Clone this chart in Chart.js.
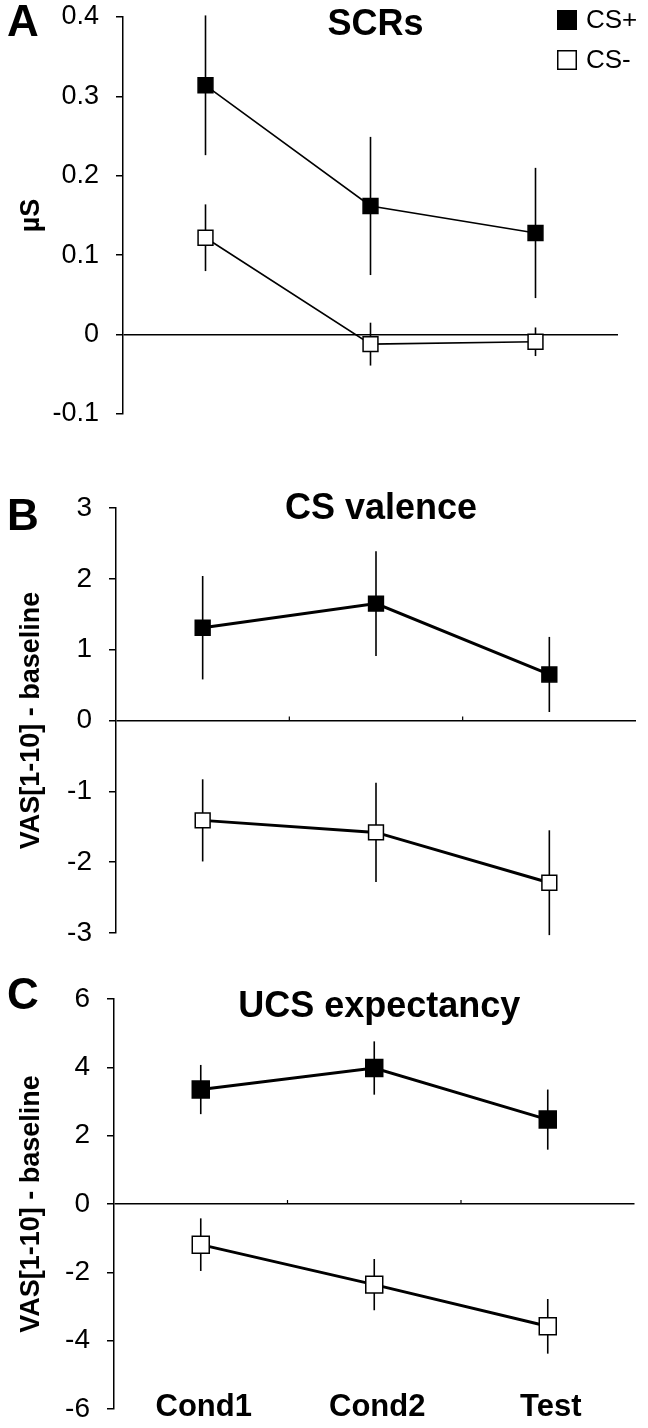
<!DOCTYPE html>
<html>
<head>
<meta charset="utf-8">
<script src="https://cdn.jsdelivr.net/npm/chart.js@4/dist/chart.umd.min.js"></script>
<style>
  html, body { margin: 0; padding: 0; background: #fff; overflow: hidden; }
  .panel { position: absolute; left: 0; width: 648px; }
  canvas { display: block; }
</style>
</head>
<body>
<div class="panel" style="top:-20px"><canvas id="scrChart" width="648" height="480"></canvas></div>
<div class="panel" style="top:455px"><canvas id="valenceChart" width="648" height="513"></canvas></div>
<div class="panel" style="top:950px"><canvas id="expectChart" width="648" height="494"></canvas></div>
<script>
// phases on the x axis (shared by all three panels)
const phases = ["Cond1", "Cond2", "Test"];
const seriesNames = ["CS+", "CS-"];

// A: skin conductance responses (µS)
const scrPlus = [0.314, 0.162, 0.128];
const scrPlusErr = [0.088, 0.087, 0.082];
const scrMinus = [0.122, -0.012, -0.009];
const scrMinusErr = [0.042, 0.027, 0.018];

// B: CS valence (VAS - baseline)
const valPlus = [1.31, 1.65, 0.65];
const valPlusErr = [0.73, 0.74, 0.53];
const valMinus = [-1.41, -1.58, -2.29];
const valMinusErr = [0.58, 0.7, 0.74];

// C: UCS expectancy (VAS - baseline)
const expPlus = [3.35, 3.98, 2.47];
const expPlusErr = [0.72, 0.78, 0.88];
const expMinus = [-1.19, -2.36, -3.58];
const expMinusErr = [0.77, 0.75, 0.8];

const FONT = "'Liberation Sans', Arial, Helvetica, sans-serif";
const TICK_FONT = "'Liberation Sans Narrow', 'Arial Narrow', 'Liberation Sans', Arial, sans-serif";

// error bars go under the markers, so draw them before the datasets
const errorBars = {
  id: "errorBars",
  beforeDatasetsDraw(chart, args, opts) {
    const { ctx, scales: { x, y } } = chart;
    ctx.save();
    ctx.strokeStyle = "#000";
    ctx.lineWidth = 1.6;
    chart.data.datasets.forEach((ds, i) => {
      const err = opts.errors[i];
      ds.data.forEach((v, j) => {
        const px = x.getPixelForValue(j);
        ctx.beginPath();
        ctx.moveTo(px, y.getPixelForValue(v + err[j]));
        ctx.lineTo(px, y.getPixelForValue(v - err[j]));
        ctx.stroke();
      });
    });
    ctx.restore();
  },
};

// panel letter, title, legend, zero-line ticks and phase labels
const decorations = {
  id: "decorations",
  afterDraw(chart, args, opts) {
    const { ctx, chartArea, scales: { x, y } } = chart;
    const top = chartArea.top;
    ctx.save();
    ctx.fillStyle = "#000";
    ctx.textBaseline = "middle";

    ctx.font = `bold 44px ${FONT}`;
    ctx.textAlign = "left";
    ctx.fillText(opts.letter, 7, top + opts.letterDy);

    ctx.font = `bold 36px ${FONT}`;
    ctx.textAlign = "center";
    ctx.fillText(opts.title, (chartArea.left + chartArea.right) / 2 + 5, top + opts.titleDy);

    if (opts.zeroTicks) {
      const y0 = y.getPixelForValue(0);
      ctx.strokeStyle = "#000";
      ctx.lineWidth = 1.2;
      for (let j = 0; j < phases.length - 1; j++) {
        const bx = (x.getPixelForValue(j) + x.getPixelForValue(j + 1)) / 2;
        ctx.beginPath();
        ctx.moveTo(bx, y0);
        ctx.lineTo(bx, y0 - 4);
        ctx.stroke();
      }
    }

    if (opts.legend) {
      ctx.font = `26px ${FONT}`;
      ctx.textAlign = "left";
      ctx.lineWidth = 1.5;
      chart.data.datasets.forEach((ds, i) => {
        const cy = top + 3 + i * 40;
        ctx.fillStyle = ds.pointBackgroundColor;
        ctx.fillRect(557, cy - 10, 20, 20);
        ctx.strokeStyle = "#000";
        ctx.strokeRect(557.75, cy - 9.25, 18.5, 18.5);
        ctx.fillStyle = "#000";
        ctx.fillText(ds.label, 586, cy + 1);
      });
    }

    if (opts.phaseLabels) {
      ctx.font = `bold 31px ${FONT}`;
      ctx.textAlign = "center";
      phases.forEach((p, j) => ctx.fillText(p, x.getPixelForValue(j) + 3, chartArea.bottom - 2));
    }
    ctx.restore();
  },
};

function makePanel(id, cfg) {
  const datasets = [
    { label: seriesNames[0], data: cfg.plus, pointBackgroundColor: "#000" },
    { label: seriesNames[1], data: cfg.minus, pointBackgroundColor: "#fff" },
  ].map((d) => ({
    ...d,
    borderColor: "#000",
    borderWidth: cfg.lineWidth,
    tension: 0,
    pointStyle: "rect",
    pointRadius: cfg.markerRadius,
    pointHoverRadius: cfg.markerRadius,
    pointBorderColor: "#000",
    pointBorderWidth: 1.5,
  }));

  return new Chart(document.getElementById(id), {
    type: "line",
    data: { labels: phases, datasets },
    options: {
      responsive: false,
      animation: false,
      devicePixelRatio: 1,
      layout: { padding: { left: 0, right: cfg.padRight, top: cfg.padTop, bottom: cfg.padBottom } },
      plugins: {
        legend: { display: false },
        tooltip: { enabled: false },
        errorBars: { errors: cfg.errors },
        decorations: cfg.deco,
      },
      scales: {
        x: { type: "category", offset: true, display: false },
        y: {
          min: cfg.min,
          max: cfg.max,
          afterFit: (scale) => { scale.width = cfg.axisX; },
          ticks: {
            stepSize: cfg.step,
            padding: 17,
            color: "#000",
            font: { family: TICK_FONT, size: cfg.tickSize },
          },
          grid: {
            drawTicks: true,
            tickLength: 7,
            tickColor: "#000",
            tickWidth: 1.5,
            lineWidth: 1.5,
            color: (c) => (c.tick && c.tick.value === 0 ? "#000" : "rgba(0,0,0,0)"),
          },
          border: { display: true, color: "#000", width: 1.5 },
          title: {
            display: true,
            text: cfg.yTitle,
            color: "#000",
            font: { family: FONT, size: 27, weight: "bold" },
            padding: { top: 15, bottom: 0 },
          },
        },
      },
    },
    plugins: [errorBars, decorations],
  });
}

makePanel("scrChart", {
  plus: scrPlus, minus: scrMinus, errors: [scrPlusErr, scrMinusErr],
  min: -0.1, max: 0.4, step: 0.1, tickSize: 27,
  yTitle: "µS", axisX: 123, padRight: 30, padTop: 37, padBottom: 46,
  lineWidth: 1.6, markerRadius: 10.5,
  deco: { letter: "A", letterDy: 7, title: "SCRs", titleDy: 8, legend: true, zeroTicks: false, phaseLabels: false },
});

makePanel("valenceChart", {
  plus: valPlus, minus: valMinus, errors: [valPlusErr, valMinusErr],
  min: -3, max: 3, step: 1, tickSize: 28,
  yTitle: "VAS[1-10] - baseline", axisX: 116, padRight: 8, padTop: 53, padBottom: 35,
  lineWidth: 3, markerRadius: 10.5,
  deco: { letter: "B", letterDy: 10, title: "CS valence", titleDy: 1, legend: false, zeroTicks: true, phaseLabels: false },
});

makePanel("expectChart", {
  plus: expPlus, minus: expMinus, errors: [expPlusErr, expMinusErr],
  min: -6, max: 6, step: 2, tickSize: 28,
  yTitle: "VAS[1-10] - baseline", axisX: 114, padRight: 9, padTop: 49, padBottom: 35,
  lineWidth: 3, markerRadius: 12,
  deco: { letter: "C", letterDy: -2, title: "UCS expectancy", titleDy: 8, legend: false, zeroTicks: true, phaseLabels: true },
});
</script>
</body>
</html>
